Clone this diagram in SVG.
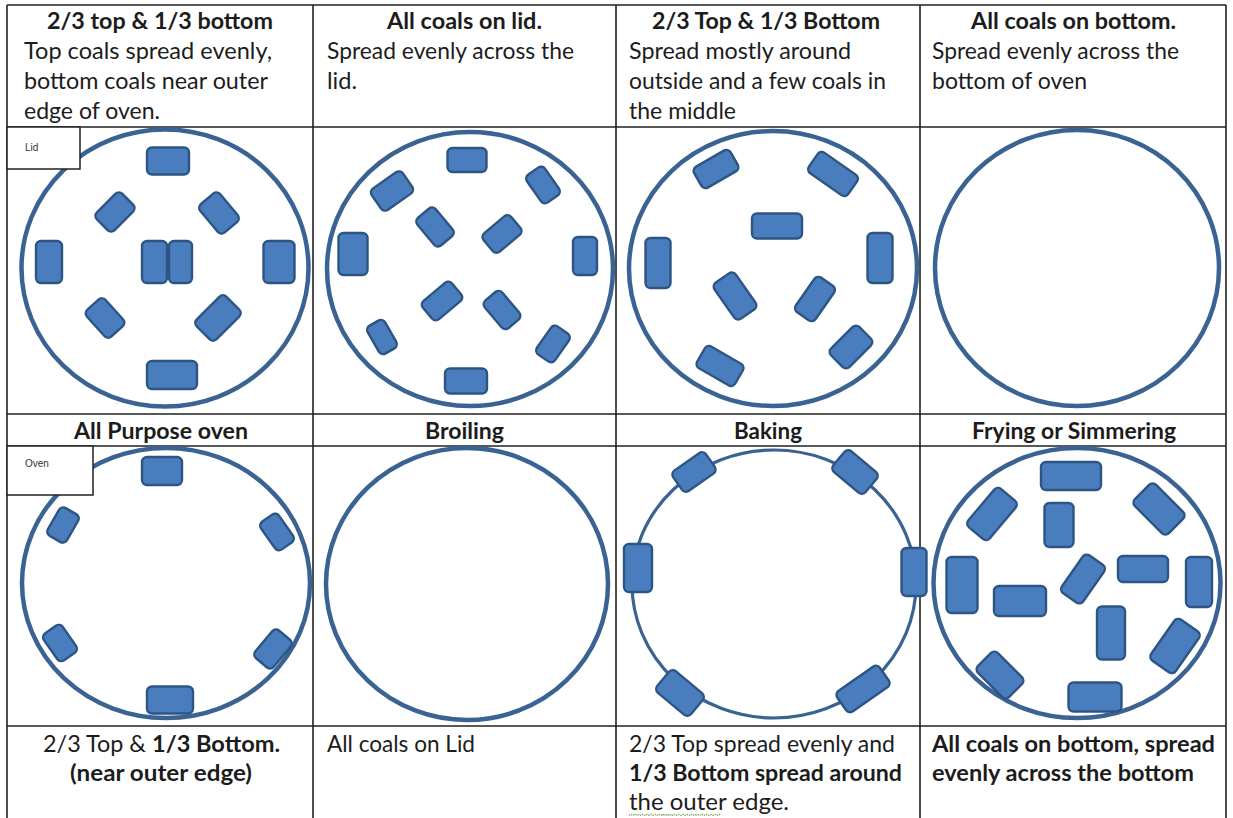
<svg xmlns="http://www.w3.org/2000/svg" width="1233" height="818" viewBox="0 0 1233 818">
<style>
.t{font-family:Lato,"Liberation Sans",sans-serif;font-size:22.5px;fill:#1c1c1c}
.b{font-weight:bold}
.sm{font-family:"Liberation Sans",Arial,sans-serif;font-size:10px;fill:#333}
.g{stroke:#222;stroke-width:1.6;fill:none}
.ring{fill:#fff;stroke:#3a6393;stroke-width:4.5}
.ring2{fill:#fff;stroke:#3a6393;stroke-width:3.2}
.c{fill:#4a7dbd;stroke:#2d5584;stroke-width:2.4}
.lbl{fill:#fff;stroke:#222;stroke-width:1.5}
</style>
<rect width="1233" height="818" fill="#fff"/>
<g id="connectors">
<g id="grid">
<path class="g" d="M7,5H1226M7,127H1226M7,414H1226M7,446H1226M7,726H1226M7,5V818M313,5V818M616,5V818M920,5V818M1226,5V818"/>
</g>
</g>

<g id="cell-r1c1">
<text class="t b" x="47" y="29" textLength="226" lengthAdjust="spacingAndGlyphs">2/3 top &amp; 1/3 bottom</text>
<text class="t" x="24" y="59" textLength="248" lengthAdjust="spacingAndGlyphs">Top coals spread evenly,</text>
<text class="t" x="24" y="89" textLength="244" lengthAdjust="spacingAndGlyphs">bottom coals near outer</text>
<text class="t" x="24" y="119" textLength="136" lengthAdjust="spacingAndGlyphs">edge of oven.</text>
</g>
<g id="cell-r1c2">
<text class="t b" x="387" y="29" textLength="155" lengthAdjust="spacingAndGlyphs">All coals on lid.</text>
<text class="t" x="327" y="59" textLength="247" lengthAdjust="spacingAndGlyphs">Spread evenly across the</text>
<text class="t" x="327" y="89" textLength="30" lengthAdjust="spacingAndGlyphs">lid.</text>
</g>
<g id="cell-r1c3">
<text class="t b" x="652" y="29" textLength="228" lengthAdjust="spacingAndGlyphs">2/3 Top &amp; 1/3 Bottom</text>
<text class="t" x="629" y="59" textLength="222" lengthAdjust="spacingAndGlyphs">Spread mostly around</text>
<text class="t" x="629" y="89" textLength="257" lengthAdjust="spacingAndGlyphs">outside and a few coals in</text>
<text class="t" x="629" y="119" textLength="107" lengthAdjust="spacingAndGlyphs">the middle</text>
</g>
<g id="cell-r1c4">
<text class="t b" x="971" y="29" textLength="205" lengthAdjust="spacingAndGlyphs">All coals on bottom.</text>
<text class="t" x="932" y="59" textLength="247" lengthAdjust="spacingAndGlyphs">Spread evenly across the</text>
<text class="t" x="932" y="89" textLength="155" lengthAdjust="spacingAndGlyphs">bottom of oven</text>
</g>

<g id="panel-lid-allpurpose">
<ellipse class="ring" cx="165" cy="268" rx="143.5" ry="138.5"/>
<rect class="c" x="-21" y="-13.5" width="42" height="27" rx="5" transform="translate(168 161)"/>
<rect class="c" x="-18" y="-12.5" width="36" height="25" rx="5" transform="translate(115 212) rotate(-45)"/>
<rect class="c" x="-18.5" y="-13" width="37" height="26" rx="5" transform="translate(219 213) rotate(50)"/>
<rect class="c" x="-13" y="-21" width="26" height="42" rx="5" transform="translate(49 262)"/>
<rect class="c" x="-12.5" y="-21" width="25" height="42" rx="5" transform="translate(154.5 262)"/>
<rect class="c" x="-11.5" y="-21" width="23" height="42" rx="5" transform="translate(180.5 262)"/>
<rect class="c" x="-15.5" y="-21" width="31" height="42" rx="5" transform="translate(279 262)"/>
<rect class="c" x="-18" y="-12.5" width="36" height="25" rx="5" transform="translate(105 318) rotate(48)"/>
<rect class="c" x="-21" y="-14" width="42" height="28" rx="5" transform="translate(218 318) rotate(-45)"/>
<rect class="c" x="-25" y="-14" width="50" height="28" rx="5" transform="translate(172 375)"/>
</g>
<g id="label-lid">
<rect class="lbl" x="7" y="127" width="73" height="42"/>
<text class="sm" x="25" y="151">Lid</text>
</g>

<g id="panel-lid-broiling">
<ellipse class="ring" cx="470" cy="269" rx="143" ry="137"/>
<rect class="c" x="-19.5" y="-12" width="39" height="24" rx="5" transform="translate(467 160)"/>
<rect class="c" x="-19" y="-13" width="38" height="26" rx="5" transform="translate(392 191) rotate(-35)"/>
<rect class="c" x="-17" y="-11" width="34" height="22" rx="5" transform="translate(543 185) rotate(55)"/>
<rect class="c" x="-14.5" y="-21" width="29" height="42" rx="5" transform="translate(353 254)"/>
<rect class="c" x="-18" y="-12" width="36" height="24" rx="5" transform="translate(435 227) rotate(50)"/>
<rect class="c" x="-18" y="-12" width="36" height="24" rx="5" transform="translate(502 234) rotate(-40)"/>
<rect class="c" x="-12" y="-19" width="24" height="38" rx="5" transform="translate(585 256)"/>
<rect class="c" x="-19" y="-12" width="38" height="24" rx="5" transform="translate(442 301) rotate(-40)"/>
<rect class="c" x="-18" y="-11.5" width="36" height="23" rx="5" transform="translate(502 310) rotate(50)"/>
<rect class="c" x="-16" y="-10" width="32" height="20" rx="5" transform="translate(382 337) rotate(60)"/>
<rect class="c" x="-17" y="-11" width="34" height="22" rx="5" transform="translate(553 344) rotate(-55)"/>
<rect class="c" x="-21" y="-12.5" width="42" height="25" rx="5" transform="translate(466 381)"/>
</g>

<g id="panel-lid-baking">
<ellipse class="ring" cx="773" cy="268.5" rx="144" ry="137.5"/>
<rect class="c" x="-21" y="-12" width="42" height="24" rx="5" transform="translate(716 169) rotate(-30)"/>
<rect class="c" x="-24" y="-12.5" width="48" height="25" rx="5" transform="translate(833 174) rotate(35)"/>
<rect class="c" x="-25" y="-12.5" width="50" height="25" rx="5" transform="translate(777 226)"/>
<rect class="c" x="-12.5" y="-25" width="25" height="50" rx="5" transform="translate(658 263)"/>
<rect class="c" x="-12.5" y="-25" width="25" height="50" rx="5" transform="translate(880 258)"/>
<rect class="c" x="-22" y="-13" width="44" height="26" rx="5" transform="translate(735 296) rotate(55)"/>
<rect class="c" x="-21" y="-12" width="42" height="24" rx="5" transform="translate(815 299) rotate(-55)"/>
<rect class="c" x="-22" y="-12.5" width="44" height="25" rx="5" transform="translate(720 366) rotate(30)"/>
<rect class="c" x="-20" y="-13" width="40" height="26" rx="5" transform="translate(851 347) rotate(-45)"/>
</g>

<g id="panel-lid-frying">
<ellipse class="ring" cx="1077" cy="268" rx="142" ry="138"/>
</g>

<g id="cell-header2">
<text class="t b" x="74" y="439" textLength="174" lengthAdjust="spacingAndGlyphs">All Purpose oven</text>
<text class="t b" x="425" y="439" textLength="79" lengthAdjust="spacingAndGlyphs">Broiling</text>
<text class="t b" x="734" y="439" textLength="68" lengthAdjust="spacingAndGlyphs">Baking</text>
<text class="t b" x="972" y="439" textLength="204" lengthAdjust="spacingAndGlyphs">Frying or Simmering</text>
</g>

<g id="panel-oven-allpurpose">
<ellipse class="ring" cx="166" cy="583" rx="144" ry="135"/>
<rect class="c" x="-20" y="-14" width="40" height="28" rx="5" transform="translate(162 471)"/>
<rect class="c" x="-16" y="-11" width="32" height="22" rx="5" transform="translate(63 525) rotate(-60)"/>
<rect class="c" x="-17" y="-11" width="34" height="22" rx="5" transform="translate(277 532) rotate(55)"/>
<rect class="c" x="-16.5" y="-11.5" width="33" height="23" rx="5" transform="translate(60 643) rotate(55)"/>
<rect class="c" x="-18" y="-12" width="36" height="24" rx="5" transform="translate(273 649) rotate(-50)"/>
<rect class="c" x="-23" y="-13.5" width="46" height="27" rx="5" transform="translate(170 700)"/>
</g>
<g id="label-oven">
<rect class="lbl" x="7" y="446" width="86" height="49"/>
<text class="sm" x="25" y="467">Oven</text>
</g>

<g id="panel-oven-broiling">
<ellipse class="ring" cx="467" cy="584" rx="141" ry="136"/>
</g>

<g id="panel-oven-baking">
<ellipse class="ring2" cx="774" cy="584" rx="142" ry="134"/>
<rect class="c" x="-20" y="-12.5" width="40" height="25" rx="5" transform="translate(694 472) rotate(-35)"/>
<rect class="c" x="-21" y="-13.5" width="42" height="27" rx="5" transform="translate(855 472) rotate(40)"/>
<rect class="c" x="-14" y="-24" width="28" height="48" rx="5" transform="translate(638 568)"/>
<rect class="c" x="-12.5" y="-24" width="25" height="48" rx="5" transform="translate(914 572)"/>
<rect class="c" x="-22" y="-14" width="44" height="28" rx="5" transform="translate(680 693) rotate(40)"/>
<rect class="c" x="-26" y="-12.5" width="52" height="25" rx="5" transform="translate(863 689) rotate(-35)"/>
</g>

<g id="panel-oven-frying">
<ellipse class="ring" cx="1077" cy="583" rx="143.5" ry="135"/>
<rect class="c" x="-30" y="-14" width="60" height="28" rx="5" transform="translate(1071 476)"/>
<rect class="c" x="-25" y="-14" width="50" height="28" rx="5" transform="translate(992 514) rotate(-50)"/>
<rect class="c" x="-24" y="-15" width="48" height="30" rx="5" transform="translate(1159 509) rotate(45)"/>
<rect class="c" x="-14.5" y="-22" width="29" height="44" rx="5" transform="translate(1059 525)"/>
<rect class="c" x="-15.5" y="-28" width="31" height="56" rx="5" transform="translate(962 585)"/>
<rect class="c" x="-26" y="-15" width="52" height="30" rx="5" transform="translate(1020 601)"/>
<rect class="c" x="-23" y="-13" width="46" height="26" rx="5" transform="translate(1083 579) rotate(-55)"/>
<rect class="c" x="-25" y="-13" width="50" height="26" rx="5" transform="translate(1143 569)"/>
<rect class="c" x="-13" y="-25" width="26" height="50" rx="5" transform="translate(1199 582)"/>
<rect class="c" x="-14" y="-26.5" width="28" height="53" rx="5" transform="translate(1111 633)"/>
<rect class="c" x="-25" y="-15" width="50" height="30" rx="5" transform="translate(1175 646) rotate(-55)"/>
<rect class="c" x="-22" y="-14" width="44" height="28" rx="5" transform="translate(1000 675) rotate(45)"/>
<rect class="c" x="-26.5" y="-14.5" width="53" height="29" rx="5" transform="translate(1095 697)"/>
</g>

<g id="cell-r4c1">
<text class="t" x="43" y="752" textLength="103" lengthAdjust="spacingAndGlyphs">2/3 Top &amp;</text>
<text class="t b" x="152" y="752" textLength="128" lengthAdjust="spacingAndGlyphs">1/3 Bottom.</text>
<text class="t b" x="70" y="781" textLength="182" lengthAdjust="spacingAndGlyphs">(near outer edge)</text>
</g>
<g id="cell-r4c2">
<text class="t" x="327" y="752" textLength="148" lengthAdjust="spacingAndGlyphs">All coals on Lid</text>
</g>
<g id="cell-r4c3">
<text class="t" x="629" y="752" textLength="266" lengthAdjust="spacingAndGlyphs">2/3 Top spread evenly and</text>
<text class="t b" x="629" y="781" textLength="273" lengthAdjust="spacingAndGlyphs">1/3 Bottom spread around</text>
<text class="t" x="629" y="810" textLength="160" lengthAdjust="spacingAndGlyphs">the outer edge.</text>
<path d="M629,815.5 l2,-1.2 l2,1.2 l2,-1.2 l2,1.2 l2,-1.2 l2,1.2 l2,-1.2 l2,1.2 l2,-1.2 l2,1.2 l2,-1.2 l2,1.2 l2,-1.2 l2,1.2 l2,-1.2 l2,1.2 l2,-1.2 l2,1.2 l2,-1.2 l2,1.2 M661,815.5 l2,-1.2 l2,1.2 l2,-1.2 l2,1.2 l2,-1.2 l2,1.2 l2,-1.2 l2,1.2 l2,-1.2 l2,1.2 l2,-1.2 l2,1.2 l2,-1.2 l2,1.2 l2,-1.2 l2,1.2 l2,-1.2 l2,1.2 l2,-1.2 l2,1.2 l2,-1.2 l2,1.2 l2,-1.2 l2,1.2 l2,-1.2 l2,1.2 l2,-1.2 l2,1.2 l2,-1.2 l2,1.2" fill="none" stroke="#7aa55a" stroke-width="1.2" stroke-dasharray="1.5,1"/>
</g>
<g id="cell-r4c4">
<text class="t b" x="932" y="752" textLength="283" lengthAdjust="spacingAndGlyphs">All coals on bottom, spread</text>
<text class="t b" x="932" y="781" textLength="262" lengthAdjust="spacingAndGlyphs">evenly across the bottom</text>
</g>
</svg>
